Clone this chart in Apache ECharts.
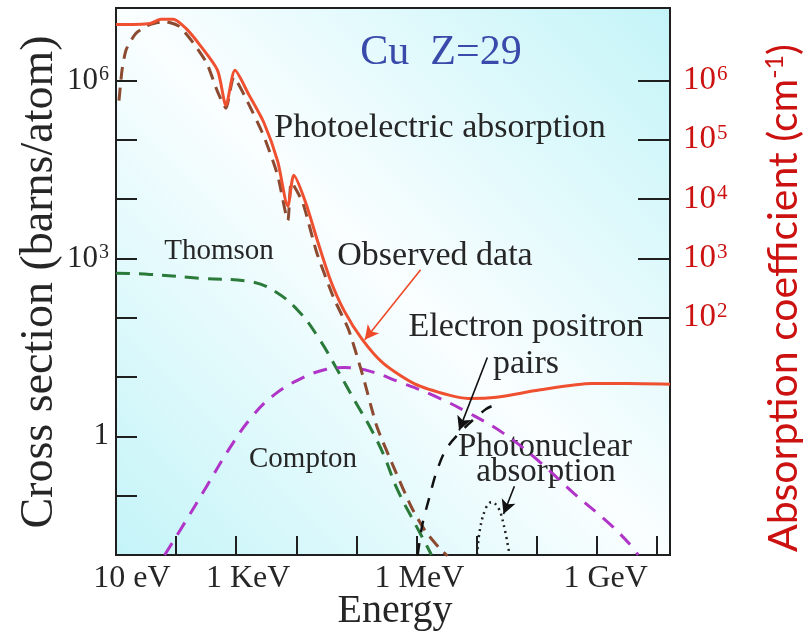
<!DOCTYPE html>
<html><head><meta charset="utf-8">
<script src="https://cdn.jsdelivr.net/npm/echarts@6.0.0/dist/echarts.min.js"></script>
<style>html,body{margin:0;padding:0;background:#fff}#c{width:803px;height:639px}</style>
</head><body><div id="c"></div>
<script>
// log10(E / eV) and log10(cross section / barns per atom)
const energyTickValues = [1, 3, 6, 9];
const energyTickLabels = ['10 eV', '1 KeV', '1 MeV', '1 GeV'];
const sigmaTickValues = [0, 3, 6];
const absorbTickValues = [2, 3, 4, 5, 6];

const observedLogE = [1.00, 1.57, 1.75, 1.95, 2.16, 2.40, 2.69, 2.83, 2.98, 3.21, 3.46, 3.69, 3.86, 3.96, 4.16, 4.34, 4.57, 4.80, 5.10, 5.45, 5.98, 6.56, 6.86, 7.33, 8.04, 8.92, 9.50, 10.22];
const observedLogSigma = [6.94, 6.96, 7.03, 7.03, 6.88, 6.59, 6.17, 5.58, 6.17, 5.76, 5.29, 4.64, 3.88, 4.40, 3.93, 3.34, 2.63, 2.11, 1.63, 1.23, 0.88, 0.69, 0.64, 0.66, 0.78, 0.89, 0.89, 0.88];

const photoLogE = [1.05, 1.10, 1.17, 1.33, 1.56, 1.81, 2.05, 2.28, 2.51, 2.69, 2.83, 2.96, 3.16, 3.46, 3.69, 3.86, 3.92, 4.11, 4.34, 4.62, 4.87, 5.10, 5.34, 5.63, 5.92, 6.15, 6.37, 6.52];
const photoLogSigma = [5.66, 6.17, 6.52, 6.79, 6.94, 6.99, 6.91, 6.64, 6.29, 5.81, 5.53, 6.05, 5.70, 5.06, 4.40, 3.64, 4.28, 3.93, 3.10, 2.34, 1.80, 1.05, 0.17, -0.54, -1.20, -1.60, -1.87, -2.02];

const thomsonLogE = [1.00, 1.56, 2.46, 3.23, 3.62, 4.04, 4.39, 4.69, 4.99, 5.22, 5.45, 5.68, 5.98, 6.17, 6.25];
const thomsonLogSigma = [2.75, 2.73, 2.66, 2.61, 2.46, 2.11, 1.63, 1.11, 0.57, 0.17, -0.30, -0.89, -1.48, -1.84, -2.0];

const comptonLogE = [1.81, 2.16, 2.51, 2.86, 3.23, 3.62, 4.11, 4.50, 4.80, 5.22, 5.68, 6.28, 6.86, 7.45, 8.04, 8.62, 9.22, 9.57, 9.69];
const comptonLogSigma = [-2.0, -1.43, -0.84, -0.25, 0.29, 0.69, 0.99, 1.13, 1.16, 1.10, 0.93, 0.69, 0.40, 0.05, -0.42, -0.96, -1.48, -1.84, -2.0];

const pairLogE = [6.02, 6.10, 6.22, 6.33, 6.51, 6.86, 7.16, 7.33];
const pairLogSigma = [-2.0, -1.48, -1.01, -0.61, -0.19, 0.20, 0.46, 0.54];

const nuclearLogE = [7.01, 7.06, 7.16, 7.25, 7.36, 7.45, 7.55];
const nuclearLogSigma = [-2.0, -1.55, -1.20, -1.11, -1.20, -1.48, -2.0];

const observedArrow = [[6.07, 2.81], [5.14, 1.63]];
const pairArrow = [[7.18, 1.33], [6.71, 0.10]];
const nuclearArrow = [[7.63, -0.84], [7.45, -1.31]];

const zip = (xs, ys) => xs.map((x, i) => [x, ys[i]]);
const SERIF = '"Liberation Serif", "Times New Roman", serif';
const TXT = '#262626';

const chart = echarts.init(document.getElementById('c'), null, {renderer: 'canvas'});

function arrowLine(pts, color) {
  return {
    silent: true, symbol: ['none', 'arrow'], symbolSize: [11, 14],
    lineStyle: {color: color, width: 1.6, type: 'solid'},
    label: {show: false},
    data: [[{coord: pts[0]}, {coord: pts[1]}]]
  };
}

const supRich = (size, supSize, color) => ({
  b: {fontFamily: SERIF, fontSize: size, color: color, lineHeight: size},
  s: {fontFamily: SERIF, fontSize: supSize, color: color, verticalAlign: 'top', lineHeight: supSize, padding: [0, 0, 0, 1]}
});

const centered = {align: 'center', verticalAlign: 'middle', textAlign: 'center', textVerticalAlign: 'middle'};
const label = (text, x, y, size, color) => ({type: 'text', x: x, y: y,
  style: Object.assign({text: text, font: size + 'px ' + SERIF, fill: color || TXT}, centered)});

const option = {
  animation: false,
  grid: {
    left: 116, right: 133, top: 8, bottom: 84, show: true,
    borderColor: '#1f1f1f', borderWidth: 2,
    backgroundColor: new echarts.graphic.LinearGradient(0, 1, 1, 0, [
      {offset: 0, color: '#c4f4f8'},
      {offset: 0.5, color: '#fafeff'},
      {offset: 1, color: '#c4f4f8'}
    ])
  },
  xAxis: {
    type: 'value', min: 1, max: 10.22, interval: 1,
    axisLine: {show: true, onZero: false, lineStyle: {color: '#1f1f1f', width: 2}},
    axisTick: {show: true, inside: true, length: 19, lineStyle: {color: '#1f1f1f', width: 2},
      customValues: [2, 3, 4, 5, 6, 7, 8, 9, 10]},
    splitLine: {show: false},
    axisLabel: {
      margin: 8, customValues: energyTickValues,
      formatter: v => {
        const i = energyTickValues.indexOf(Math.round(v));
        return i < 0 ? '' : '{l' + i + '|' + energyTickLabels[i] + '}';
      },
      rich: {
        l0: {fontFamily: SERIF, fontSize: 32, color: TXT, padding: [0, 0, 0, 32]},
        l1: {fontFamily: SERIF, fontSize: 32, color: TXT, padding: [0, 0, 0, 24]},
        l2: {fontFamily: SERIF, fontSize: 32, color: TXT, padding: [0, 0, 0, 6]},
        l3: {fontFamily: SERIF, fontSize: 32, color: TXT, padding: [0, 0, 0, 18]}
      }
    }
  },
  yAxis: [{
    type: 'value', min: -2, max: 7.22, interval: 1, position: 'left',
    axisLine: {show: true, onZero: false, lineStyle: {color: '#1f1f1f', width: 2}},
    axisTick: {show: true, inside: true, length: 21, lineStyle: {color: '#1f1f1f', width: 2},
      customValues: [-1, 0, 1, 2, 3, 4, 5, 6]},
    splitLine: {show: false},
    axisLabel: {
      margin: 7, customValues: sigmaTickValues,
      formatter: v => v === 0 ? '{b|1}' : '{b|10}{s|' + Math.round(v) + '}',
      rich: supRich(31, 20, TXT)
    }
  }, {
    type: 'value', min: -2, max: 7.22, interval: 1, position: 'right',
    axisLine: {show: true, onZero: false, lineStyle: {color: '#1f1f1f', width: 2}},
    axisTick: {show: true, inside: true, length: 32, lineStyle: {color: '#1f1f1f', width: 2},
      customValues: absorbTickValues},
    splitLine: {show: false},
    axisLabel: {
      margin: 13, customValues: absorbTickValues,
      formatter: v => '{b|10}{s|' + Math.round(v) + '}',
      rich: supRich(33, 21, '#cc1111')
    }
  }],
  series: [
    {name: 'Thomson', type: 'line', data: zip(thomsonLogE, thomsonLogSigma), showSymbol: false, smooth: 0.4,
      lineStyle: {color: '#2a7a3a', width: 3, type: [14, 9]}, z: 2},
    {name: 'Compton', type: 'line', data: zip(comptonLogE, comptonLogSigma), showSymbol: false, smooth: 0.4,
      lineStyle: {color: '#b034c8', width: 3, type: [14, 10]}, z: 2},
    {name: 'Photoelectric', type: 'line', data: zip(photoLogE, photoLogSigma), showSymbol: false, smooth: 0.2,
      lineStyle: {color: '#8c4a30', width: 3, type: [13, 8]}, z: 3},
    {name: 'Pairs', type: 'line', data: zip(pairLogE, pairLogSigma), showSymbol: false, smooth: 0.3,
      lineStyle: {color: '#111', width: 2.5, type: [12, 11]}, z: 3,
      markLine: arrowLine(pairArrow, '#111')},
    {name: 'Photonuclear', type: 'line', data: zip(nuclearLogE, nuclearLogSigma), showSymbol: false, smooth: 0.4,
      lineStyle: {color: '#222', width: 2.5, type: [2, 4]}, z: 3,
      markLine: arrowLine(nuclearArrow, '#111')},
    {name: 'Observed data', type: 'line', data: zip(observedLogE, observedLogSigma), showSymbol: false, smooth: 0.25,
      lineStyle: {color: '#ee5030', width: 3}, z: 4,
      markLine: arrowLine(observedArrow, '#ee4a2a')}
  ],
  graphic: [
    label('Cu  Z=29', 441, 53, 42, '#3a4aaa'),
    label('Photoelectric absorption', 440, 128, 34),
    label('Thomson', 219, 251, 29),
    label('Observed data', 435, 256, 34),
    label('Electron positron', 526, 327, 34),
    label('pairs', 526, 364, 34),
    label('Photonuclear', 545, 447, 33),
    label('absorption', 546, 472, 33),
    label('Compton', 303, 459, 29),
    label('Energy', 395, 611, 40),
    {type: 'text', x: 40, y: 282, rotation: Math.PI / 2,
      style: Object.assign({text: 'Cross section (barns/atom)', font: '46px ' + SERIF, fill: TXT}, centered)},
    {type: 'text', x: 784, y: 298, rotation: Math.PI / 2, style: Object.assign({
      text: '{a|Absorption coefficient (cm}{s|-1}{a|)}',
      rich: {
        a: {fontFamily: 'Lato, "Open Sans", sans-serif', fontSize: 41, fill: '#cc1111', color: '#cc1111', lineHeight: 44},
        s: {fontFamily: 'Lato, "Open Sans", sans-serif', fontSize: 25, fill: '#cc1111', color: '#cc1111', verticalAlign: 'top', lineHeight: 25}
      }}, centered)}
  ]
};
chart.setOption(option);
</script>
</body></html>
